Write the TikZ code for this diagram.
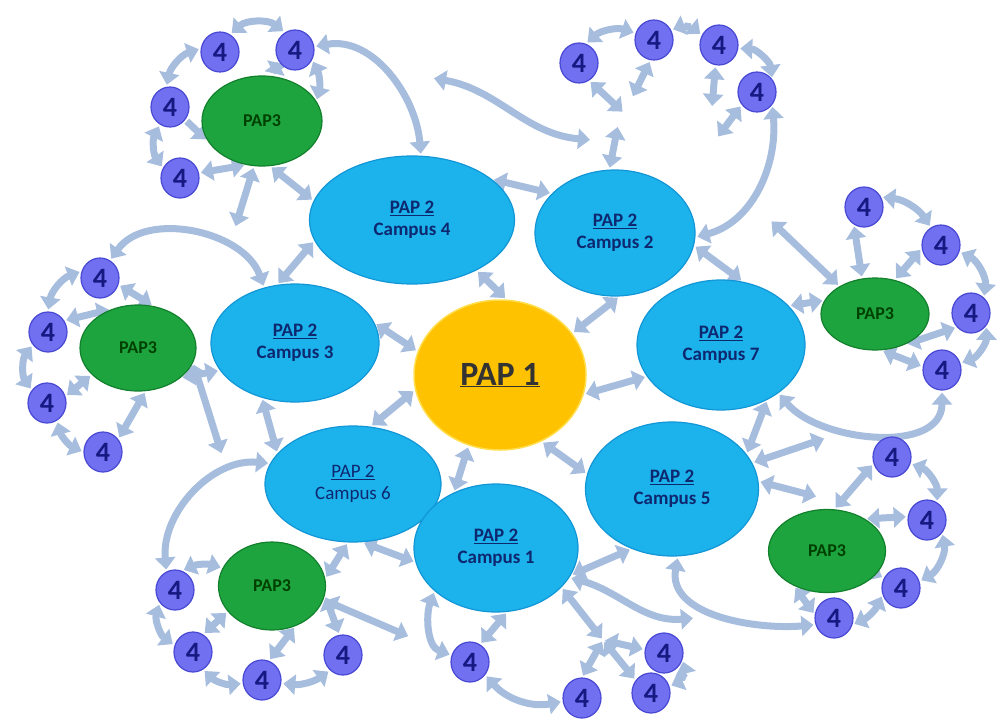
\documentclass[tikz,border=0pt]{standalone}
\usepackage{fontspec}
\setmainfont{Carlito}
\usetikzlibrary{arrows.meta, positioning, shapes.geometric, backgrounds}
\definecolor{linkblue}{RGB}{166,189,222}
\definecolor{campusblue}{RGB}{28,178,236}
\definecolor{campusedge}{RGB}{18,150,214}
\definecolor{campustext}{RGB}{14,40,112}
\definecolor{papgold}{RGB}{255,194,0}
\definecolor{papedge}{RGB}{255,222,80}
\definecolor{papgreen}{RGB}{30,164,62}
\definecolor{greenedge}{RGB}{18,128,44}
\definecolor{fourfill}{RGB}{112,112,240}
\definecolor{fouredge}{RGB}{72,72,212}
\definecolor{fourtext}{RGB}{24,24,130}

\tikzset{
  link/.style={line width=7pt, draw=linkblue, {Triangle[width=20pt,length=12pt]}-{Triangle[width=20pt,length=12pt]}, shorten <=2pt, shorten >=2pt},
  linkone/.style={line width=7pt, draw=linkblue, -{Triangle[width=20pt,length=12pt]}, shorten <=2pt, shorten >=2pt},
  campus/.style={ellipse, fill=campusblue, draw=campusedge, line width=1.2pt, inner sep=0pt, text=campustext, align=center, font=\fontsize{19}{22}\selectfont\bfseries},
  pap3/.style={ellipse, fill=papgreen, draw=greenedge, line width=1.2pt, inner sep=0pt, text=black!75!green, font=\fontsize{18}{20}\selectfont\bfseries},
  four/.style={ellipse, fill=fourfill, draw=fouredge, line width=1.2pt, minimum width=38pt, minimum height=40pt, inner sep=0pt, text=fourtext, font=\fontsize{28}{30}\selectfont\bfseries},
}

\begin{document}
\begin{tikzpicture}[x=1pt, y=1pt]
    \useasboundingbox (0,0) rectangle (1008,-720);

    % core and campuses
    \node[ellipse, fill=papgold, draw=papedge, line width=1.5pt, minimum width=172pt, minimum height=150pt,
          text=black!80, font=\fontsize{34}{38}\selectfont\bfseries] (pap1) at (500,-375) {\underline{PAP 1}};
    \node[campus, minimum width=205pt, minimum height=128pt] (c4) at (412,-220) {\underline{PAP 2}\\Campus 4};
    \node[campus, minimum width=160pt, minimum height=126pt] (c2) at (615,-233) {\underline{PAP 2}\\Campus 2};
    \node[campus, minimum width=168pt, minimum height=118pt] (c3) at (295,-343) {\underline{PAP 2}\\Campus 3};
    \node[campus, minimum width=168pt, minimum height=130pt] (c7) at (721,-345) {\underline{PAP 2}\\Campus 7};
    \node[campus, minimum width=176pt, minimum height=116pt, font=\fontsize{19}{22}\selectfont] (c6) at (353,-484) {\underline{PAP 2}\\Campus 6};
    \node[campus, minimum width=164pt, minimum height=128pt] (c1) at (496,-548) {\underline{PAP 2}\\Campus 1};
    \node[campus, minimum width=173pt, minimum height=134pt] (c5) at (672,-489) {\underline{PAP 2}\\Campus 5};

    % PAP3 hubs
    \node[pap3, minimum width=120pt, minimum height=90pt] (gtl) at (262,-121) {PAP3};
    \node[pap3, minimum width=116pt, minimum height=86pt] (gl) at (138,-348) {PAP3};
    \node[pap3, minimum width=108pt, minimum height=72pt] (gr) at (875,-314) {PAP3};
    \node[pap3, minimum width=107pt, minimum height=88pt] (gbl) at (272,-586) {PAP3};
    \node[pap3, minimum width=117pt, minimum height=83pt] (gbr) at (827,-551) {PAP3};

    % level 4 sites
    \foreach \name/\x/\y in {tl1/220/52, tl2/295/50, tl3/170/107, tl4/180/178,
                            l1/100/278, l2/48/332, l3/47/403, l4/103/452,
                            tr1/579/63, tr2/654/40, tr3/719/45, tr4/757/92,
                            r1/864/207, r2/941/245, r3/971/313, r4/942/370,
                            br1/892/457, br2/927/520, br3/901/588, br4/834/618,
                            bm1/470/662, bm2/582/698, bm3/664/653, bm4/651/693,
                            bl1/175/590, bl2/193/652, bl3/262/680, bl4/343/655}
        \node[four] (\name) at (\x,-\y) {4};

    % loose ends
    \coordinate (zigA) at (235,-228);
    \coordinate (leftA) at (222,-455);
    \coordinate (blA) at (410,-637);
    \coordinate (bmhub) at (603,-640);
    \coordinate (bmend) at (695,-618);
    \coordinate (trA) at (624,-113);
    \coordinate (trB) at (632,-98);
    \coordinate (trC) at (712,-108);
    \coordinate (trD) at (717,-138);
    \coordinate (trE) at (618,-125);
    \coordinate (arcA) at (432,-78);
    \coordinate (arcB) at (592,-140);
    \coordinate (grA) at (770,-220);
    \coordinate (brA) at (818,-497);
    \coordinate (brB) at (826,-438);

    \begin{scope}[on background layer]
    % centre links
    \draw[link] (c4.-38) -- (pap1.85);
    \draw[link] (pap1.30) -- (c2.-86);
    \draw[link] (c3.14) -- (pap1.164);
    \draw[link] (pap1.-13) -- (c7.203);
    \draw[link] (c6.73) -- (pap1.190);
    \draw[link] (c1.127) -- (pap1.246);
    \draw[link] (pap1.-58) -- (c5.170);
    % campus ring
    \draw[link] (c4.27) -- (c2.148);
    \draw[link] (c4.192) -- (c3.107);
    \draw[link] (c2.-9) -- (c7.71);
    \draw[link] (c3.239) -- (c6.158);
    \draw[link] (c6.-81) -- (c1.190);
    \draw[link] (c1.-20) -- (c5.236);
    \draw[link] (c5.25) -- (c7.-50);

    % top left
    \draw[link] (tl1.60) to[bend left=40] (tl2.120);
    \draw[link] (tl1.170) to[bend right=30] (tl3.100);
    \draw[link] (tl3.240) to[bend right=30] (tl4.150);
    \draw[link] (tl4.15) -- (gtl.250);
    \draw[linkone] (tl3.-40) -- (gtl.200);
    \draw[link] (tl2.210) -- (gtl.75);
    \draw[link] (tl2.-30) to[bend left=20] (gtl.20);
    \draw[link] (tl2.10) to[out=10, in=95] (c4.82);
    \draw[link] (gtl.-80) -- (c4.169);
    \draw[link] (gtl.-100) -- (zigA);

    % left
    \draw[link] (l1.60) to[out=55, in=110] (c3.119);
    \draw[link] (l1.160) to[bend right=30] (l2.90);
    \draw[link] (l2.220) to[bend right=35] (l3.140);
    \draw[link] (l3.-60) to[bend right=25] (l4.180);
    \draw[link] (l4.40) -- (gl.-80);
    \draw[link] (l3.20) -- (gl.210);
    \draw[link] (l2.35) -- (gl.125);
    \draw[link] (l1.-20) -- (gl.70);
    \draw[link] (gl.-35) -- (c3.200);
    \draw[link] (gl.-15) -- (leftA);

    % bottom left
    \draw[link] (c6.166) to[out=175, in=95] (bl1.115);
    \draw[link] (bl1.70) to[bend left=20] (gbl.160);
    \draw[link] (bl1.220) to[bend right=35] (bl2.160);
    \draw[link] (bl2.-60) to[bend right=25] (bl3.190);
    \draw[link] (bl3.-10) to[bend right=20] (bl4.230);
    \draw[link] (bl2.60) -- (gbl.210);
    \draw[link] (bl3.70) -- (gbl.-60);
    \draw[link] (gbl.-10) -- (bl4.100);
    \draw[link] (gbl.8) -- (c6.-95);
    \draw[link] (gbl.-15) -- (blA);

    % bottom middle
    \draw[link] (c1.215) to[out=250, in=160] (bm1.160);
    \draw[link] (c1.-80) -- (bm1.60);
    \draw[link] (bm1.-40) to[bend right=30] (bm2.190);
    \draw[link] (bm3.-20) to[bend left=40] (bm4.20);
    \draw[link] (bm2.90) -- (bmhub);
    \draw[link] (bm4.140) -- (bmhub);
    \draw[link] (bm3.170) -- (bmhub);
    \draw[link] (c1.-31) -- (bmhub);
    \draw[link] (c1.-22) to[out=-15, in=185] (bmend);
    \draw[link] (c5.-85) to[out=-100, in=185] (br4.200);

    % top right
    \draw[link] (tr1.70) to[bend left=30] (tr2.160);
    \draw[link] (tr2.30) to[bend left=30] (tr3.150);
    \draw[link] (tr3.-10) to[bend left=40] (tr4.40);
    \draw[link] (tr1.-60) -- (trA);
    \draw[link] (tr2.-100) -- (trB);
    \draw[link] (trE) -- (c2.95);
    \draw[link] (tr3.-100) -- (trC);
    \draw[link] (tr4.220) -- (trD);
    \draw[link] (tr4.-40) to[out=-85, in=15] (c2.-3);
    \draw[link] (arcA) to[out=-10, in=175] (arcB);

    % right
    \draw[link] (r1.30) to[bend left=25] (r2.120);
    \draw[link] (r2.-20) to[bend left=35] (r3.50);
    \draw[link] (r3.-40) to[bend left=35] (r4.20);
    \draw[link] (gr.-80) -- (r4.170);
    \draw[link] (gr.-45) -- (r3.225);
    \draw[link] (gr.60) -- (r2.190);
    \draw[link] (r1.-120) -- (gr.110);
    \draw[link] (gr.142) -- (grA);
    \draw[link] (c7.30) -- (gr.165);
    \draw[link] (c7.-40) to[out=-50, in=-90] (r4.-90);

    % bottom right
    \draw[link] (br1.-20) to[bend left=35] (br2.60);
    \draw[link] (br2.-40) to[bend left=35] (br3.20);
    \draw[link] (br3.200) to[bend left=20] (br4.-20);
    \draw[link] (gbr.-133) -- (br4.170);
    \draw[link] (gbr.40) -- (br2.170);
    \draw[link] (gbr.80) -- (br1.200);
    \draw[link] (gbr.-25) -- (br3.150);
    \draw[link] (c5.5) -- (brA);
    \draw[link] (c5.18) -- (brB);
    \end{scope}
\end{tikzpicture}
\end{document}
